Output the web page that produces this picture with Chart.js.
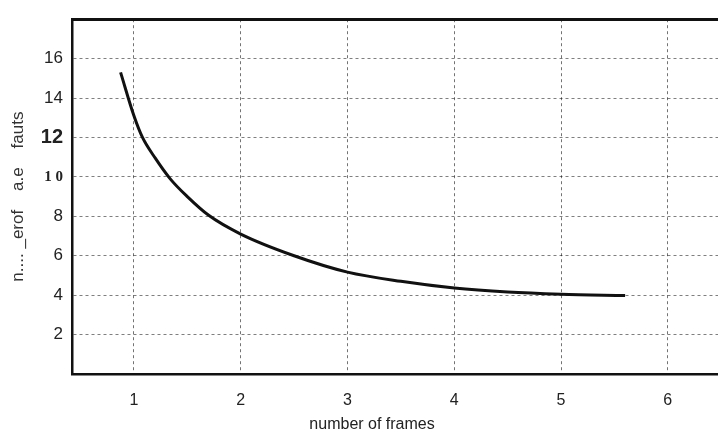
<!DOCTYPE html>
<html>
<head>
<meta charset="utf-8">
<script src="https://cdn.jsdelivr.net/npm/chart.js@4/dist/chart.umd.min.js"></script>
<style>
    html, body { margin: 0; padding: 0; background: #fff; overflow: hidden; }
    #chart { display: block; }
</style>
</head>
<body>
<canvas id="chart" width="718" height="434"></canvas>
<script>
// Valeurs
const frames = [0.875, 1.0, 1.08, 1.2, 1.34, 1.5, 1.7, 2.0, 2.5, 3.0, 3.5, 4.0, 4.5, 5.0, 5.6];
const pageFaults = [15.3, 13.1, 12.0, 10.95, 9.9, 9.0, 8.05, 7.1, 6.0, 5.17, 4.7, 4.36, 4.16, 4.05, 3.98];

// Graduations
const xTicks = [1, 2, 3, 4, 5, 6];
const yTicks = [2, 4, 6, 8, 10, 12, 14, 16];
const yTickLabels = ['2', '4', '6', '8', '1 0', '12', '14', '16'];

const xTitle = 'number of frames';
const yTitle = 'n.... _erof    a.e    fauts';

document.addEventListener('DOMContentLoaded', function() {
    const ctx = document.getElementById('chart').getContext('2d');

    // Titre de l'axe x (décalé comme sur l'original)
    const xTitlePlugin = {
        id: 'xTitle',
        afterDraw(chart) {
            const c = chart.ctx;
            const xs = chart.scales.x;
            c.save();
            c.font = '16px "Liberation Sans", Arial, sans-serif';
            c.fillStyle = '#222';
            c.textAlign = 'center';
            c.textBaseline = 'middle';
            c.fillText(xTitle, xs.getPixelForValue(3.23), 425);
            c.restore();
        }
    };

    const gridDash = [3, 3];

    new Chart(ctx, {
        type: 'line',
        data: {
            datasets: [{
                data: frames.map((f, i) => ({ x: f, y: pageFaults[i] })),
                borderColor: '#111',
                borderWidth: 3,
                pointRadius: 0,
                cubicInterpolationMode: 'monotone',
                fill: false
            }]
        },
        options: {
            responsive: false,
            animation: false,
            layout: { padding: { left: 0, right: 0, top: 12, bottom: 0 } },
            plugins: {
                legend: { display: false },
                tooltip: { enabled: false }
            },
            scales: {
                x: {
                    type: 'linear',
                    min: 0.42,
                    max: 6.47,
                    afterBuildTicks: s => { s.ticks = xTicks.map(v => ({ value: v })); },
                    afterFit: s => { s.height = 60; },
                    grid: {
                        color: 'rgba(0,0,0,0.55)',
                        lineWidth: 1,
                        drawTicks: false
                    },
                    border: { display: true, color: '#111', width: 2.5, dash: gridDash },
                    ticks: {
                        padding: 17,
                        color: '#222',
                        font: { family: '"Liberation Sans", Arial, sans-serif', size: 16 }
                    }
                },
                xTop: {
                    type: 'linear',
                    position: 'top',
                    min: 0.42,
                    max: 6.47,
                    afterFit: s => { s.height = 0; },
                    grid: { display: false, drawTicks: false },
                    ticks: { display: false },
                    border: { display: true, color: '#111', width: 3 }
                },
                y: {
                    type: 'linear',
                    min: 0,
                    max: 18,
                    afterBuildTicks: s => { s.ticks = yTicks.map(v => ({ value: v })); },
                    afterFit: s => { s.width = 72; },
                    grid: {
                        color: 'rgba(0,0,0,0.5)',
                        lineWidth: 1,
                        drawTicks: false
                    },
                    border: { display: true, color: '#111', width: 2.5, dash: gridDash },
                    ticks: {
                        padding: 9,
                        color: '#222',
                        callback: function(value) {
                            const i = yTicks.indexOf(value);
                            return i >= 0 ? yTickLabels[i] : '';
                        },
                        font: function(context) {
                            const v = context.tick ? context.tick.value : 0;
                            if (v === 12) return { family: '"Liberation Sans", Arial, sans-serif', size: 20, weight: 'bold' };
                            if (v === 10) return { family: '"Liberation Serif", serif', size: 15, weight: 'bold' };
                            return { family: '"Liberation Sans", Arial, sans-serif', size: 17 };
                        }
                    },
                    title: {
                        display: true,
                        text: yTitle,
                        color: '#333',
                        padding: { top: 8, bottom: 0 },
                        font: { family: '"Liberation Sans", Arial, sans-serif', size: 17 }
                    }
                }
            }
        },
        plugins: [xTitlePlugin]
    });
});
</script>
</body>
</html>
